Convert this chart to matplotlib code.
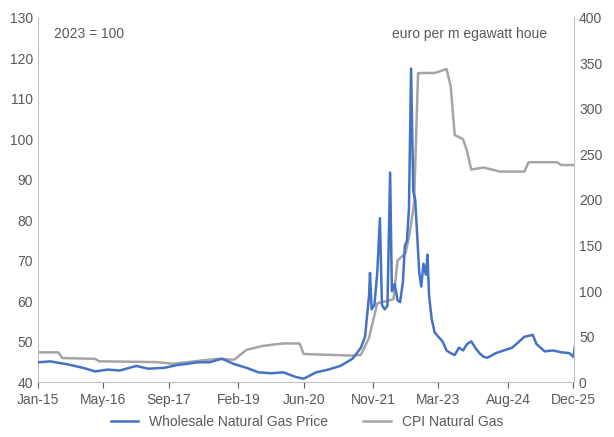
import numpy as np
import pandas as pd
import matplotlib.pyplot as plt
import matplotlib.dates as mdates

plt.rcParams['font.family'] = ['Liberation Sans', 'DejaVu Sans']

# CPI natural gas (left axis, 2023 = 100)
cpi_dates = ['2015-01-01', '2015-06-01', '2015-07-01', '2016-03-01', '2016-04-01', '2017-06-01',
             '2017-10-01', '2018-06-01', '2018-09-01', '2019-01-01', '2019-04-01', '2019-08-01',
             '2020-01-01', '2020-05-01', '2020-06-01', '2021-06-01', '2021-08-01', '2021-10-01',
             '2021-12-01', '2022-02-01', '2022-04-01', '2022-05-01', '2022-07-01', '2022-08-01',
             '2022-09-01', '2022-10-01', '2023-02-01', '2023-03-01', '2023-05-01', '2023-06-01',
             '2023-07-01', '2023-09-01', '2023-10-01', '2023-11-01', '2024-02-01', '2024-06-01',
             '2024-12-01', '2025-01-01', '2025-08-01', '2025-09-01', '2025-12-01']
cpi_vals = [47.4, 47.4, 46.0, 45.8, 45.2, 45.0,
            44.6, 45.5, 45.8, 45.6, 48.0, 49.0,
            49.6, 49.6, 47.0, 46.6, 46.8, 51.0,
            59.5, 60.0, 60.5, 70.0, 72.0, 77.0,
            84.0, 116.3, 116.3, 116.6, 117.3, 113.0,
            101.0, 100.0, 97.0, 92.5, 93.0, 92.0,
            92.0, 94.3, 94.3, 93.6, 93.6]

# wholesale natural gas price (right axis, euro per MWh)
ws_dates = ['2015-01-01', '2015-04-01', '2015-08-01', '2015-12-01', '2016-03-01', '2016-06-01',
            '2016-09-01', '2017-01-01', '2017-04-01', '2017-08-01', '2017-11-01', '2018-01-01',
            '2018-04-01', '2018-07-01', '2018-10-01', '2019-01-01', '2019-04-01', '2019-07-01',
            '2019-10-01', '2020-01-01', '2020-04-01', '2020-06-01', '2020-09-01', '2020-12-01',
            '2021-03-01', '2021-06-01', '2021-08-01', '2021-09-01', '2021-10-01', '2021-10-08',
            '2021-10-20', '2021-11-10', '2021-12-01', '2021-12-21', '2022-01-05', '2022-01-25',
            '2022-02-15', '2022-03-07', '2022-03-20', '2022-04-10', '2022-05-01', '2022-05-20',
            '2022-06-10', '2022-06-25', '2022-07-10', '2022-07-25', '2022-08-10', '2022-08-26',
            '2022-09-10', '2022-09-25', '2022-10-10', '2022-10-25', '2022-11-10', '2022-11-28',
            '2022-12-10', '2022-12-22', '2023-01-10', '2023-02-01', '2023-03-01', '2023-04-01',
            '2023-05-01', '2023-06-01', '2023-07-01', '2023-08-01', '2023-09-01', '2023-10-01',
            '2023-11-01', '2023-12-01', '2024-01-01', '2024-02-01', '2024-03-01', '2024-05-01',
            '2024-07-01', '2024-09-01', '2024-11-01', '2024-12-01', '2025-02-01', '2025-03-01',
            '2025-05-01', '2025-07-01', '2025-09-01', '2025-11-01', '2025-12-01', '2025-12-20']
ws_vals = [22, 23, 20, 16, 12, 14,
           13, 18, 15, 16, 19, 20,
           22, 22, 26, 20, 16, 11,
           10, 11, 6, 4, 11, 14,
           18, 26, 38, 50, 95, 120,
           80, 85, 120, 180, 85, 80,
           84, 230, 100, 108, 90, 88,
           110, 150, 155, 190, 344, 210,
           200, 160, 120, 105, 130, 118,
           140, 95, 70, 55, 50, 45,
           35, 32, 30, 38, 35, 42,
           45, 38, 32, 28, 27, 32,
           35, 38, 46, 50, 52, 42,
           34, 35, 33, 32, 28, 48]

cpi_x = pd.to_datetime(cpi_dates)
ws_x = pd.to_datetime(ws_dates)

tick_dates = pd.to_datetime(['2015-01-01', '2016-05-01', '2017-09-01', '2019-02-01', '2020-06-01',
                             '2021-11-01', '2023-03-01', '2024-08-01', '2025-12-01'])
tick_labels = ['Jan-15', 'May-16', 'Sep-17', 'Feb-19', 'Jun-20', 'Nov-21', 'Mar-23', 'Aug-24', 'Dec-25']

blue = '#4472c4'
grey = '#a5a5a5'
tc = '#595959'

fig, ax = plt.subplots(figsize=(6.14, 4.37), dpi=100)
fig.subplots_adjust(left=0.062, right=0.935, top=0.96, bottom=0.125)
ax2 = ax.twinx()

ax2.plot(ws_x, ws_vals, color=blue, lw=1.8, label='Wholesale Natural Gas Price')
ax.plot(cpi_x, cpi_vals, color=grey, lw=1.8, label='CPI Natural Gas')

ax.set_ylim(40, 130)
ax.set_yticks(range(40, 131, 10))
ax2.set_ylim(0, 400)
ax2.set_yticks(range(0, 401, 50))
ax.set_xlim(tick_dates[0], tick_dates[-1] + pd.Timedelta(days=5))
ax.set_xticks(tick_dates)
ax.set_xticklabels(tick_labels)

for a in (ax, ax2):
    a.spines['top'].set_visible(False)
    a.tick_params(colors=tc, labelsize=10, length=4)
    for s in ['left', 'right', 'bottom']:
        a.spines[s].set_color('#bfbfbf')
ax.spines['right'].set_visible(False)
ax2.spines['left'].set_visible(False)
ax2.spines['bottom'].set_visible(False)
ax.tick_params(axis='y', length=0)
ax2.tick_params(axis='y', length=0)

ax.text(0.03, 0.975, '2023 = 100', transform=ax.transAxes, color=tc, fontsize=10, va='top')
ax.text(0.95, 0.975, 'euro per m egawatt houe', transform=ax.transAxes, color=tc, fontsize=10,
        va='top', ha='right')

h1, l1 = ax2.get_legend_handles_labels()
h2, l2 = ax.get_legend_handles_labels()
fig.legend(h1 + h2, l1 + l2, loc='lower center', ncol=2, frameon=False, fontsize=10,
           labelcolor=tc, bbox_to_anchor=(0.5, -0.01), columnspacing=2.5)

fig.savefig('out.png')
